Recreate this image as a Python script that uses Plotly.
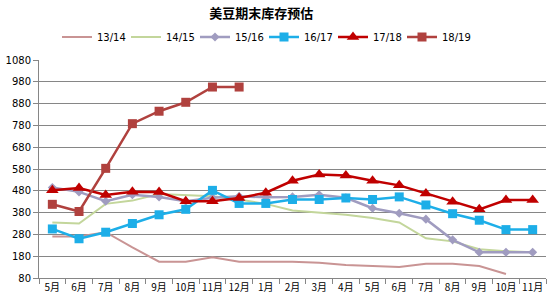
import plotly.graph_objects as go

months = ["5月", "6月", "7月", "8月", "9月", "10月", "11月", "12月", "1月", "2月",
          "3月", "4月", "5月", "6月", "7月", "8月", "9月", "10月", "11月"]

s1314 = [270, 270, 290, 220, 155, 155, 175, 155, 155, 155, 150, 140, 135, 130, 145, 145, 135, 98]
s1415 = [335, 330, 420, 435, 465, 460, 455, 440, 420, 390, 380, 370, 355, 335, 262, 248, 212, 203, 198]
s1516 = [495, 475, 432, 462, 452, 432, 448, 455, 450, 452, 462, 448, 400, 377, 350, 255, 198, 198, 198]
s1617 = [305, 260, 290, 330, 370, 395, 482, 422, 422, 440, 440, 447, 440, 452, 415, 375, 345, 302, 302]
s1718 = [482, 493, 461, 476, 474, 432, 432, 447, 471, 526, 555, 550, 526, 505, 468, 430, 395, 438, 438]
s1819 = [418, 385, 583, 788, 845, 886, 956, 956]

names = ["13/14", "14/15", "15/16", "16/17", "17/18", "18/19"]
series = [s1314, s1415, s1516, s1617, s1718, s1819]
colors = ["#C99494", "#C3D69B", "#A09CC0", "#1DAEE8", "#C00000", "#B0413E"]
symbols = [None, None, "diamond", "square", "triangle-up", "square"]
msizes = [0, 0, 7, 9, 11, 9]
widths = [2, 2, 2.5, 2.5, 2.5, 2.5]

fig = go.Figure()
for n, s, c, sym, ms, w in zip(names, series, colors, symbols, msizes, widths):
    x = list(range(len(s)))
    if sym is None:
        fig.add_trace(go.Scatter(x=x, y=s, name=n, mode="lines",
                                 line=dict(color=c, width=w)))
    else:
        fig.add_trace(go.Scatter(x=x, y=s, name=n, mode="lines+markers",
                                 line=dict(color=c, width=w),
                                 marker=dict(symbol=sym, size=ms, color=c)))

fig.update_layout(
    width=550, height=300,
    margin=dict(l=39, r=4, t=60, b=22),
    paper_bgcolor="white", plot_bgcolor="white",
    title=dict(text="<b>美豆期末库存预估</b>", xref="container", x=0.475, xanchor="center",
               yref="container", y=1 - 13 / 300, yanchor="middle",
               font=dict(family="Noto Sans CJK SC", size=13, color="#000000")),
    legend=dict(orientation="h", xref="container", x=0.48, xanchor="center",
                yref="container", y=1 - 37 / 300, yanchor="middle",
                font=dict(family="DejaVu Sans", size=10, color="#000000"),
                itemwidth=30, tracegroupgap=0, entrywidth=24, entrywidthmode="pixels"),
    font=dict(family="DejaVu Sans", size=10, color="#000000"),
)
fig.update_xaxes(range=[-0.5, 18.5], tickmode="array", tickvals=list(range(len(months))),
                 ticktext=months, ticks="", showline=True, linecolor="#868686", linewidth=1,
                 showgrid=False, zeroline=False,
                 tickfont=dict(family="Noto Sans CJK SC", size=10, color="#000000"),
                 minor=dict(tick0=0.5, dtick=1, ticks="outside", ticklen=5, tickcolor="#868686",
                            showgrid=False))
fig.update_yaxes(range=[80, 1080], tickmode="array", tickvals=list(range(80, 1081, 100)),
                 ticks="outside", ticklen=5, tickcolor="#868686", showline=True,
                 linecolor="#868686", linewidth=1, showgrid=True, gridcolor="#868686",
                 gridwidth=1, zeroline=False,
                 tickfont=dict(family="DejaVu Sans", size=10, color="#000000"))

fig.write_html("out.html")
